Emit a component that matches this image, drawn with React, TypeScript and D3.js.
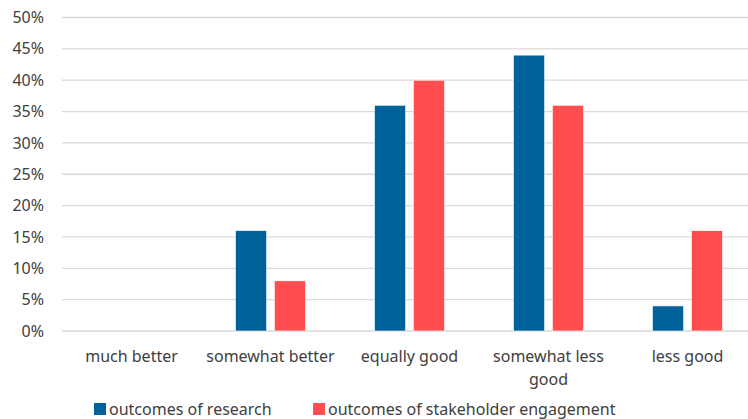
import React from 'react';
import * as d3 from 'd3';

const categories = ['much better', 'somewhat better', 'equally good', 'somewhat less good', 'less good'];
const seriesNames = ['outcomes of research', 'outcomes of stakeholder engagement'];
const research = [0, 0.16, 0.36, 0.44, 0.04];
const stakeholder = [0, 0.08, 0.4, 0.36, 0.16];
const yTicks = [0, 0.05, 0.1, 0.15, 0.2, 0.25, 0.3, 0.35, 0.4, 0.45, 0.5];
const colors = ['#00629b', '#ff4d50'];

const W = 748;
const H = 419;
const font = "'Noto Sans', sans-serif";
const textColor = '#404040';

// categories wrapped like the original axis
const labelLines: Record<string, string[]> = {
  'somewhat less good': ['somewhat less', 'good'],
};

const App: React.FC = () => {
  const y = d3.scaleLinear().domain([0, 0.5]).range([331, 17.5]);
  const x0 = d3.scaleBand<string>().domain(categories).range([62, 757]);
  const x1 = d3.scaleBand<string>().domain(seriesNames).range([34.5, 104.5]).paddingInner(0.2);
  const fmt = d3.format('.0%');
  const values = [research, stakeholder];

  return (
    <svg width={W} height={H} style={{ position: 'absolute', left: 0, top: 0, background: '#fff' }}>
      {yTicks.map((t) => (
        <g key={t}>
          <line x1={62} x2={W} y1={y(t)} y2={y(t)} stroke="#d9d9d9" strokeWidth={1.3} />
          <text x={44} y={y(t)} dy="0.35em" textAnchor="end" fontFamily={font} fontSize={16} fill={textColor}>
            {fmt(t)}
          </text>
        </g>
      ))}

      {categories.map((c, i) => (
        <g key={c} transform={`translate(${x0(c)},0)`}>
          {seriesNames.map((s, j) => {
            const v = values[j][i];
            if (!v) return null;
            return (
              <rect
                key={s}
                x={x1(s)}
                y={y(v)}
                width={x1.bandwidth()}
                height={y(0) - y(v)}
                fill={colors[j]}
                stroke="#fff"
                strokeWidth={0.6}
              />
            );
          })}
          {(labelLines[c] || [c]).map((line, k) => (
            <text
              key={k}
              x={x0.bandwidth() / 2}
              y={362 + k * 22.5}
              textAnchor="middle"
              fontFamily={font}
              fontSize={16}
              fill={textColor}
            >
              {line}
            </text>
          ))}
        </g>
      ))}

      {seriesNames.map((s, j) => {
        const lx = j === 0 ? 94 : 313;
        return (
          <g key={s}>
            <rect x={lx} y={403} width={12} height={12} fill={colors[j]} />
            <text x={lx + 15} y={409} dy="0.35em" fontFamily={font} fontSize={16} fill={textColor}>
              {s}
            </text>
          </g>
        );
      })}
    </svg>
  );
};

export default App;
